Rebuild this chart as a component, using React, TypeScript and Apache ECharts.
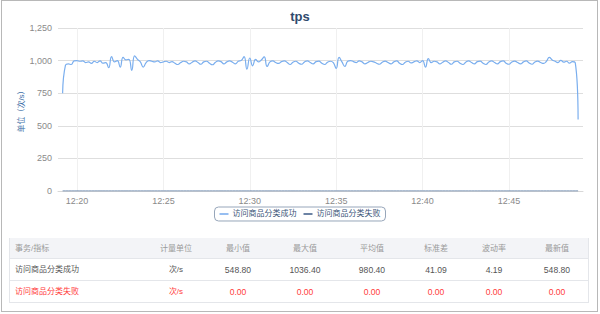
import React, { useEffect, useRef } from "react";
import * as echarts from "echarts";

const seriesNames = ["访问商品分类成功", "访问商品分类失败"];
const startTime = "12:19:10";
const stepSeconds = 10;
const axisStart = "12:18:54";
const axisEnd = "12:49:17";
const xTickLabels = ["12:20", "12:25", "12:30", "12:35", "12:40", "12:45"];
const successValues = [
  750, 965, 975, 970, 998, 1000, 995, 998, 985, 990,
  978, 995, 985, 998, 980, 985, 945, 1030, 990, 1000,
  950, 1025, 1005, 1010, 925, 1036.4, 1010, 990, 950, 985,
  1000, 995, 990, 998, 985, 990, 995, 985, 992, 980,
  970, 985, 995, 990, 975, 988, 998, 985, 972, 990,
  995, 980, 968, 985, 998, 992, 975, 990, 998, 988,
  975, 995, 1000, 1030, 935, 1020, 960, 1010, 990, 1005,
  1028, 955, 990, 998, 985, 978, 992, 998, 985, 970,
  988, 995, 980, 972, 990, 998, 985, 975, 992, 996,
  980, 970, 988, 995, 985, 940, 1025, 990, 955, 995,
  1000, 992, 985, 998, 990, 975, 985, 995, 990, 980,
  972, 988, 996, 985, 975, 990, 998, 980, 970, 988,
  995, 982, 990, 998, 985, 1000, 950, 1015, 985, 995,
  990, 975, 988, 998, 985, 972, 990, 995, 980, 970,
  988, 998, 985, 975, 992, 996, 980, 970, 990, 998,
  985, 975, 992, 998, 980, 972, 990, 996, 985, 975,
  990, 998, 982, 972, 990, 996, 985, 978, 995, 1025,
  1005, 995, 985, 1002, 988, 995, 980, 992, 985, 548.8,
];
const failureValues = successValues.map(() => 0);
const yTicks = [0, 250, 500, 750, 1000, 1250];

const tableHeaders = ["事务/指标", "计量单位", "最小值", "最大值", "平均值", "标准差", "波动率", "最新值"];
const tableRows = [
  ["访问商品分类成功", "次/s", "548.80", "1036.40", "980.40", "41.09", "4.19", "548.80"],
  ["访问商品分类失败", "次/s", "0.00", "0.00", "0.00", "0.00", "0.00", "0.00"],
];
const rowColors = ["#555555", "#ff3b3b"];

const colCenters = [0, 176, 238, 305, 372, 436, 494, 557];
const FONT = "'Liberation Sans','Noto Sans CJK SC',sans-serif";

function toSec(s: string) {
  const p = s.split(":").map(Number);
  return p[0] * 3600 + p[1] * 60 + (p[2] || 0);
}
function fmt(sec: number) {
  const h = Math.floor(sec / 3600);
  const m = Math.round((sec - h * 3600) / 60);
  return String(h).padStart(2, "0") + ":" + String(m).padStart(2, "0");
}

export default function App() {
  const ref = useRef<HTMLDivElement>(null);
  useEffect(() => {
    if (!ref.current) return;
    const chart = echarts.init(ref.current, null, { renderer: "svg" });
    const t0 = toSec(startTime);
    const succ = successValues.map((v, i) => [t0 + i * stepSeconds, v]);
    const fail = failureValues.map((v, i) => [t0 + i * stepSeconds, v]);
    const tickVals = xTickLabels.map(toSec);
    chart.setOption({
      animation: false,
      textStyle: { fontFamily: FONT },
      title: {
        text: "tps",
        left: "center",
        top: 5,
        textStyle: { fontSize: 13, fontWeight: "bold", color: "#2f4a6d", fontFamily: FONT },
      },
      legend: {
        top: 207,
        left: "center",
        borderColor: "#97a6ba",
        borderWidth: 1,
        borderRadius: 4,
        padding: [3, 5],
        itemGap: 7,
        itemWidth: 9,
        itemHeight: 1.5,
        icon: "rect",
        textStyle: { fontSize: 8, color: "#3b5578", fontFamily: FONT, padding: [0, 0, 0, -1] },
        data: seriesNames,
      },
      grid: { left: 58, right: 17, top: 28, bottom: 123 },
      xAxis: {
        type: "value",
        min: toSec(axisStart),
        max: toSec(axisEnd),
        axisLine: { show: true, lineStyle: { color: "#d8d8d8" } },
        axisTick: { show: false, customValues: tickVals },
        splitLine: { show: true, lineStyle: { color: "#f0f0f0" } },
        axisLabel: {
          fontSize: 9,
          color: "#8a8a8a",
          margin: 5,
          customValues: tickVals,
          formatter: (v: number) => fmt(v),
        },
      },
      yAxis: {
        type: "value",
        min: yTicks[0],
        max: yTicks[yTicks.length - 1],
        interval: 250,
        name: "单位（次/s）",
        nameLocation: "middle",
        nameRotate: 90,
        nameGap: 33,
        nameMoveOverlap: false,
        nameTextStyle: { color: "#3d6fa8", fontSize: 8, fontFamily: FONT },
        axisLine: { show: false },
        axisTick: { show: false },
        splitLine: { lineStyle: { color: "#dedede" } },
        axisLabel: {
          fontSize: 9,
          color: "#8a8a8a",
          margin: 6,
          formatter: (v: number) => v.toLocaleString("en-US"),
        },
      },
      series: [
        {
          name: seriesNames[0],
          type: "line",
          data: succ,
          smooth: true,
          showSymbol: false,
          symbol: "none",
          lineStyle: { color: "#7aaeee", width: 1.2 },
          itemStyle: { color: "#74a9ec" },
        },
        {
          name: seriesNames[1],
          type: "line",
          data: fail,
          showSymbol: false,
          symbol: "none",
          lineStyle: { color: "#5a7aa3", width: 1 },
          itemStyle: { color: "#3b5a86" },
        },
      ],
    });
    return () => chart.dispose();
  }, []);

  const rowTops = [238, 259, 281];
  const rowHeights = [21, 22, 22];

  return (
    <div style={{ position: "fixed", left: 0, top: 0, width: 600, height: 314, background: "#ffffff", overflow: "hidden", fontFamily: FONT }}>
      <div style={{ position: "absolute", left: 1, top: 0, width: 597, height: 312, border: "1px solid #b8b8b8", boxSizing: "border-box" }} />
      <div ref={ref} style={{ position: "absolute", left: 0, top: 0, width: 600, height: 314 }} />
      <div style={{ position: "absolute", left: 9, top: 238, width: 580, height: 65, border: "1px solid #e4e6ea", boxSizing: "border-box" }} />
      {[0, 1, 2].map((r) => (
        <div
          key={"row" + r}
          style={{
            position: "absolute",
            left: 10,
            top: rowTops[r],
            width: 578,
            height: rowHeights[r],
            background: r === 0 ? "#f3f4f7" : "transparent",
            borderBottom: r < 2 ? "1px solid #e4e6ea" : "none",
            boxSizing: "border-box",
          }}
        />
      ))}
      {tableHeaders.map((h, c) => (
        <div
          key={"h" + c}
          style={{
            position: "absolute",
            top: 243,
            left: c === 0 ? 15 : colCenters[c] - 40,
            width: c === 0 ? 120 : 80,
            textAlign: c === 0 ? "left" : "center",
            fontSize: 8,
            lineHeight: "12px",
            color: "#9a9a9a",
            whiteSpace: "nowrap",
          }}
        >
          {h}
        </div>
      ))}
      {tableRows.map((row, r) =>
        row.map((cell, c) => (
          <div
            key={"c" + r + "_" + c}
            style={{
              position: "absolute",
              top: r === 0 ? 264 : 286,
              left: c === 0 ? 15 : colCenters[c] - 40,
              width: c === 0 ? 120 : 80,
              textAlign: c === 0 ? "left" : "center",
              fontSize: c < 2 ? 8 : 8.6,
              lineHeight: "12px",
              color: rowColors[r],
              whiteSpace: "nowrap",
            }}
          >
            {cell}
          </div>
        ))
      )}
    </div>
  );
}
